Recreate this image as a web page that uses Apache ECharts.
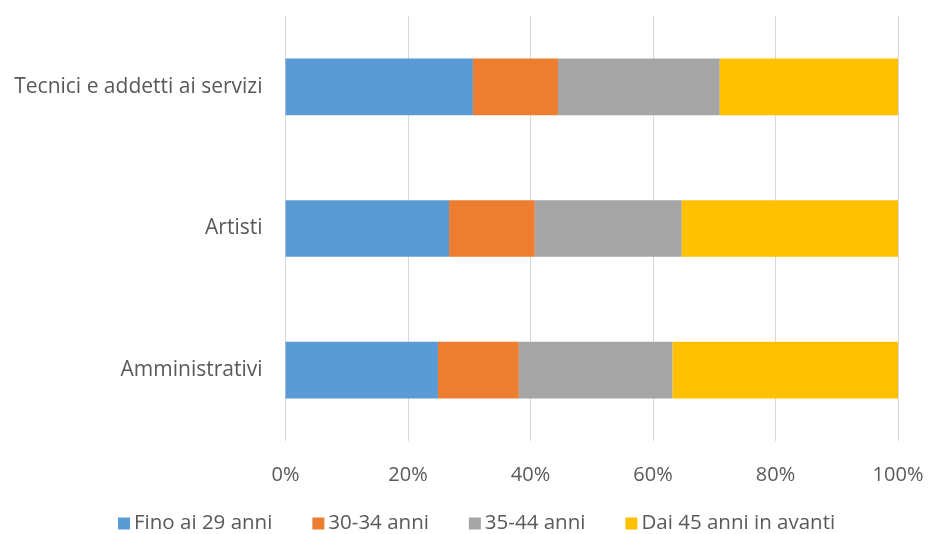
<!DOCTYPE html>
<html><head><meta charset="utf-8">
<script src="https://cdn.jsdelivr.net/npm/echarts@6/dist/echarts.min.js"></script>
<style>html,body{margin:0;padding:0;background:#fff}#c{width:929px;height:534px}</style>
</head><body><div id="c"></div>
<script>
const categories = ['Amministrativi', 'Artisti', 'Tecnici e addetti ai servizi'];
const seriesNames = ['Fino ai 29 anni', '30-34 anni', '35-44 anni', 'Dai 45 anni in avanti'];
const fino29 = [24.9, 26.7, 30.6];
const anni3034 = [13.2, 14.0, 13.9];
const anni3544 = [25.1, 24.0, 26.4];
const dai45 = [36.8, 35.3, 29.1];
const xTicks = [0, 20, 40, 60, 80, 100];
const colors = ['#5b9bd5', '#ed7d31', '#a5a5a5', '#ffc000'];
const values = [fino29, anni3034, anni3544, dai45];
const font = 'Open Sans';
const chart = echarts.init(document.getElementById('c'));
chart.setOption({
  animation: false,
  color: colors,
  grid: { left: 285.5, right: 31, top: 16, bottom: 93, containLabel: false },
  legend: {
    top: 513, left: 118, padding: 0,
    itemWidth: 12, itemHeight: 12, itemGap: 40, icon: 'rect',
    textStyle: { fontFamily: font, fontSize: 20.5, color: '#595959', padding: [0, 0, 0, -1] },
    data: seriesNames
  },
  xAxis: {
    type: 'value', min: xTicks[0], max: xTicks[xTicks.length - 1], interval: 20,
    axisLine: { show: false }, axisTick: { show: false },
    splitLine: { lineStyle: { color: '#d9d9d9', width: 1 } },
    axisLabel: { formatter: '{value}%', fontFamily: font, fontSize: 20, color: '#595959', margin: 24 }
  },
  yAxis: {
    type: 'category', data: categories,
    axisLine: { show: false }, axisTick: { show: false },
    axisLabel: { fontFamily: font, fontSize: 21, color: '#595959', margin: 23 }
  },
  series: seriesNames.map((n, i) => ({
    name: n, type: 'bar', stack: 'total', barWidth: '40%',
    data: values[i]
  }))
});
</script></body></html>
